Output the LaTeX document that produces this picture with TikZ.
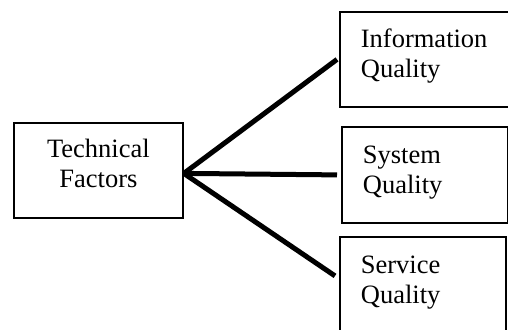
\documentclass[tikz,border=0pt]{standalone}
\usepackage{fontspec}
\setmainfont{Liberation Serif}
\usetikzlibrary{positioning}

\begin{document}
\begin{tikzpicture}[x=1pt, y=-1pt,
  factor/.style={draw, line width=1.8pt, inner sep=0pt, anchor=north west,
                 font=\fontsize{26.5}{30}\selectfont},
  link/.style={line width=5pt}
]
  \useasboundingbox (0,0) rectangle (508,329);
  \clip (0,0) rectangle (508,329);

  \node[factor] (tech) at (13,122)
    {\parbox[t][95pt][t]{169pt}{\centering\rule{0pt}{35pt}Technical\\Factors}};
  \node[factor] (info) at (339,11)
    {\parbox[t][95pt][t]{175pt}{\raggedright\leftskip=21pt\rule{0pt}{36pt}Information\\Quality}};
  \node[factor] (sys)  at (341,126)
    {\parbox[t][96pt][t]{166pt}{\raggedright\leftskip=21pt\rule{0pt}{37pt}System\\Quality}};
  \node[factor] (serv) at (339,236)
    {\parbox[t][96pt][t]{166pt}{\raggedright\leftskip=21pt\rule{0pt}{37pt}Service\\Quality}};

  \coordinate (hub) at ([yshift=-3pt]tech.east);
  \draw[link] (hub) -- ([xshift=-2pt]info.west);
  \draw[link] (hub) -- ([xshift=-4pt]sys.west);
  \draw[link] (hub) -- ([shift={(-4pt,9pt)}]serv.west);
\end{tikzpicture}
\end{document}
